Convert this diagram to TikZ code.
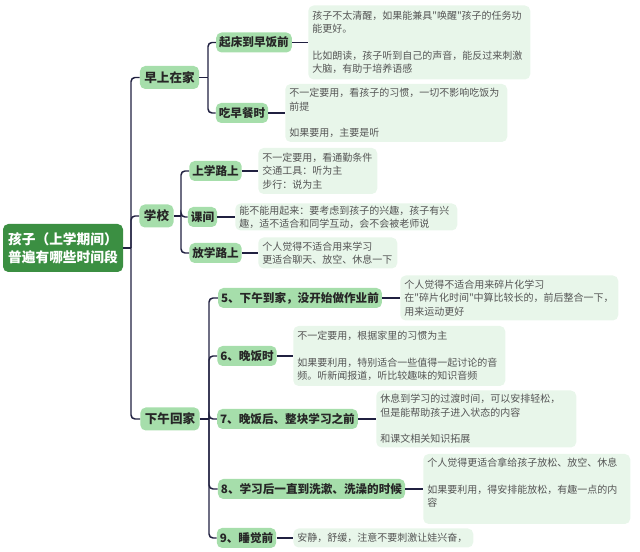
\documentclass[tikz,border=0pt]{standalone}
\usepackage{fontspec}
\setmainfont{Noto Sans CJK SC}[Ligatures=TeXOff]
\definecolor{rootgreen}{RGB}{59,143,66}
\definecolor{topicgreen}{RGB}{166,222,171}
\definecolor{notegreen}{RGB}{232,246,234}
\definecolor{linkblue}{RGB}{32,32,64}
\definecolor{notegray}{RGB}{85,85,85}
\tikzset{link/.style={draw=linkblue, line width=1.1pt}}
\tikzset{elbow/.style={link, rounded corners=3pt}}
\tikzset{root/.style={fill=rootgreen, text=white, rounded corners=4pt, minimum width=90pt, minimum height=36pt, align=center, font=\fontsize{10.3}{13.5}\selectfont\bfseries}}
\tikzset{main/.style={fill=topicgreen, text=black!85, rounded corners=4pt, inner xsep=3.4pt, inner ysep=0pt, minimum height=17.25pt, font=\fontsize{9.4}{11}\selectfont\bfseries}}
\tikzset{sub/.style={fill=topicgreen, text=black!85, rounded corners=4pt, inner xsep=2.25pt, inner ysep=0pt, minimum height=15pt, font=\fontsize{8.7}{10}\selectfont\bfseries}}
\tikzset{note/.style args={#1/#2}{fill=notegreen, text=notegray, rounded corners=4pt, anchor=west, inner xsep=3pt, inner ysep=1.5pt, text width=#1, minimum height=#2, align=left, font=\fontsize{7.5}{10}\selectfont}}

\begin{document}
\begin{tikzpicture}[x=0.75pt, y=-0.75pt]
\useasboundingbox (0,0) rectangle (640,552);
\node[root] (kid) at (63,248) {孩子（上学期间）\\普遍有哪些时间段};
\node[main] (morning) at (169.5,77.5) {早上在家};
\node[main] (school) at (156.5,216) {学校};
\node[main] (home) at (170,419) {下午回家};
\node[sub] (wake) at (254,42.5) {起床到早饭前};
\node[sub] (breakfast) at (242,113) {吃早餐时};
\node[sub] (toschool) at (215.5,171) {上学路上};
\node[sub] (recess) at (202.5,217) {课间};
\node[sub] (fromschool) at (215.5,253) {放学路上};
\node[sub] (arrive) at (300,298) {5、下午到家，没开始做作业前};
\node[sub] (dinner) at (247,356) {6、晚饭时};
\node[sub] (afterdinner) at (287.5,419) {7、晚饭后、整块学习之前};
\node[sub] (washup) at (311.5,489) {8、学习后一直到洗漱、洗澡的时候};
\node[sub] (sleep) at (246.5,538) {9、睡觉前};
\node[note={160.5pt/55.5pt}] (wake-n) at (308,42.5) {孩子不太清醒，如果能兼具"唤醒"孩子的任务功\\能更好。\\[10pt]比如朗读，孩子听到自己的声音，能反过来刺激\\大脑，有助于培养语感};
\node[note={160.5pt/43.5pt}] (breakfast-n) at (285,113) {不一定要用，看孩子的习惯，一切不影响吃饭为\\前提\\[10pt]如果要用，主要是听};
\node[note={83.25pt/34.5pt}] (toschool-n) at (258,171) {不一定要用，看通勤条件\\交通工具：听为主\\步行：说为主};
\node[note={160.5pt/20.25pt}] (recess-n) at (235,217) {能不能用起来：要考虑到孩子的兴趣，孩子有兴\\趣，适不适合和同学互动，会不会被老师说};
\node[note={98.25pt/23.25pt}] (fromschool-n) at (258,253) {个人觉得不适合用来学习\\更适合聊天、放空、休息一下};
\node[note={157.5pt/33.75pt}] (arrive-n) at (400,298) {个人觉得不适合用来碎片化学习\\在"碎片化时间"中算比较长的，前后整合一下，\\用来运动更好};
\node[note={153pt/45pt}] (dinner-n) at (293,356) {不一定要用，根据家里的习惯为主\\[10pt]如果要利用，特别适合一些值得一起讨论的音\\频。听新闻报道，听比较趣味的知识音频};
\node[note={144pt/42.75pt}] (afterdinner-n) at (376,419) {休息到学习的过渡时间，可以安排轻松，\\但是能帮助孩子进入状态的内容\\[10pt]和课文相关知识拓展};
\node[note={149.25pt/52.5pt}] (washup-n) at (423,489) {个人觉得更适合拿给孩子放松、放空、休息\\[10pt]如果要利用，得安排能放松，有趣一点的内\\容\\~};
\node[note={129pt/14.25pt}] (sleep-n) at (293,538) {安静，舒缓，注意不要刺激让娃兴奋，};
\coordinate (kid-j) at (131,248);
\coordinate (morning-j) at (208,77.5);
\coordinate (school-j) at (181,216);
\coordinate (home-j) at (209,419);
\draw[link] (kid.east) -- (kid-j);
\draw[link] (morning.east) -- (morning-j);
\draw[link] (school.east) -- (school-j);
\draw[link] (home.east) -- (home-j);
\foreach \c in {morning,school,home} \draw[elbow] (kid-j) |- (\c.west);
\foreach \c in {wake,breakfast} \draw[elbow] (morning-j) |- (\c.west);
\foreach \c in {toschool,recess,fromschool} \draw[elbow] (school-j) |- (\c.west);
\foreach \c in {arrive,dinner,afterdinner,washup,sleep} \draw[elbow] (home-j) |- (\c.west);
\foreach \c in {wake,breakfast,toschool,recess,fromschool,arrive,dinner,afterdinner,washup,sleep} \draw[link] (\c.east) -- (\c-n.west);
\end{tikzpicture}
\end{document}
